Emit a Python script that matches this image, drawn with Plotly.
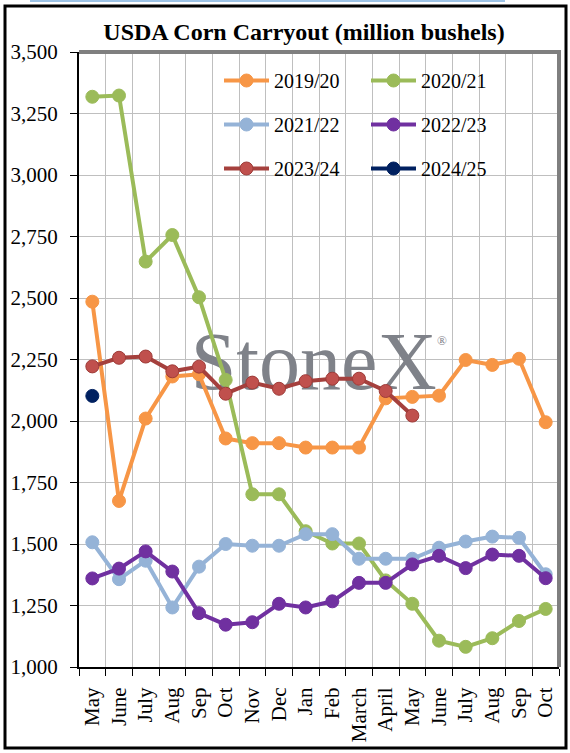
import plotly.graph_objects as go

# USDA corn carryout estimates by report month (million bushels)
months = ["May", "June", "July", "Aug", "Sep", "Oct", "Nov", "Dec", "Jan", "Feb",
          "March", "April", "May", "June", "July", "Aug", "Sep", "Oct"]

y2019 = [2485, 1675, 2010, 2181, 2190, 1929, 1910, 1910, 1892, 1892,
         1892, 2092, 2098, 2103, 2248, 2228, 2253, 1995]
y2020 = [3318, 3323, 2648, 2756, 2503, 2167, 1702, 1702, 1552, 1502,
         1502, 1352, 1257, 1107, 1082, 1117, 1187, 1236]
y2021 = [1507, 1357, 1432, 1242, 1408, 1500, 1493, 1493, 1540, 1540,
         1440, 1440, 1440, 1485, 1510, 1530, 1525, 1377]
y2022 = [1360, 1400, 1470, 1388, 1219, 1172, 1182, 1257, 1242, 1267,
         1342, 1342, 1417, 1452, 1402, 1457, 1452, 1361]
y2023 = [2222, 2257, 2262, 2202, 2221, 2111, 2156, 2131, 2162, 2172,
         2172, 2122, 2022]
y2024 = [2102]

series = [
    # name, values, line colour, marker colour, marker outline, legend
    ("2019/20", y2019, "#F79646", "#F79646", "#F79646", "legend"),
    ("2020/21", y2020, "#9BBB59", "#9BBB59", "#9BBB59", "legend2"),
    ("2021/22", y2021, "#95B3D7", "#95B3D7", "#95B3D7", "legend"),
    ("2022/23", y2022, "#7030A0", "#7030A0", "#7030A0", "legend2"),
    ("2023/24", y2023, "#A5403D", "#C0504D", "#9E3B38", "legend"),
    ("2024/25", y2024, "#002060", "#002060", "#002060", "legend2"),
]

FONT = "Liberation Serif"
WIDTH, HEIGHT = 570, 753
L, R, T, B = 79, 11, 52, 86
PW, PH = WIDTH - L - R, HEIGHT - T - B


def fx(p):  # pixel -> paper x
    return (p - L) / PW


def fy(p):  # pixel -> paper y
    return (HEIGHT - B - p) / PH


fig = go.Figure()

# watermark, drawn first so the lines sit over it
fig.add_trace(go.Scatter(
    x=[8.3], y=[2215], mode="text", text=["StoneX"],
    textfont=dict(family=FONT, size=82, color="#7F8289"),
    hoverinfo="skip", showlegend=False,
))

for name, vals, lc, mc, oc, leg in series:
    fig.add_trace(go.Scatter(
        x=list(range(len(vals))), y=vals, name=name, mode="lines+markers",
        line=dict(color=lc, width=4),
        marker=dict(color=mc, size=13, line=dict(color=oc, width=1)),
        legend=leg, legendgroup=name,
    ))

legend_common = dict(
    font=dict(family=FONT, size=20, color="black"),
    bgcolor="rgba(0,0,0,0)", itemwidth=45, traceorder="grouped",
    tracegroupgap=15, xanchor="left", yanchor="top", orientation="v",
    itemclick=False,
)

fig.update_layout(
    width=WIDTH, height=HEIGHT,
    margin=dict(l=L, r=R, t=T, b=B, autoexpand=False),
    paper_bgcolor="white", plot_bgcolor="white",
    font=dict(family=FONT, color="black"),
    title=dict(text="<b>USDA Corn Carryout (million bushels)</b>",
               font=dict(family=FONT, size=24, color="black"),
               x=304 / WIDTH, xanchor="center", xref="container",
               y=1 - 32 / HEIGHT, yanchor="middle"),
    legend=dict(x=fx(219), y=fy(61), **legend_common),
    legend2=dict(x=fx(366), y=fy(61), **legend_common),
    annotations=[
        dict(text="®", xref="paper", yref="paper", x=fx(449), y=fy(340),
             showarrow=False, font=dict(family=FONT, size=13, color="#7F8289")),
    ],
    shapes=[
        # white legend panel over the grid
        dict(type="rect", xref="paper", yref="paper", layer="between",
             x0=fx(205), x1=fx(548), y0=fy(190), y1=fy(60),
             fillcolor="white", line_width=0),
        # grey top and right plot border
        dict(type="path", xref="paper", yref="paper", layer="above",
             path="M 0 1 L 1 1 L 1 0", line=dict(color="#7F7F7F", width=4)),
        # outer black frame
        dict(type="rect", xref="paper", yref="paper", layer="above",
             x0=fx(5), x1=fx(566), y0=fy(748), y1=fy(6),
             line=dict(color="black", width=3)),
        # stray blue rule at the very top
        dict(type="line", xref="paper", yref="paper", layer="above",
             x0=fx(30), x1=fx(505), y0=fy(1), y1=fy(1),
             line=dict(color="#9DC3E6", width=2)),
    ],
)

fig.update_xaxes(
    range=[-0.5, len(months) - 0.5],
    tickmode="array", tickvals=list(range(len(months))), ticktext=months,
    tickangle=-90, ticks="", showgrid=False, zeroline=False,
    tickfont=dict(family=FONT, size=21, color="black"),
    ticklabelstandoff=10,
    showline=True, linecolor="black", linewidth=2,
    minor=dict(tickmode="linear", tick0=-0.5, dtick=1, ticks="outside",
               ticklen=7, tickcolor="black", tickwidth=1,
               showgrid=True, gridcolor="#BFBFBF", gridwidth=1),
)
fig.update_yaxes(
    range=[1000, 3500], dtick=250, tickformat=",",
    ticks="outside", ticklen=7, tickcolor="black",
    showgrid=True, gridcolor="#BFBFBF", gridwidth=1, zeroline=False,
    tickfont=dict(family=FONT, size=21, color="black"),
    ticklabelstandoff=8,
    showline=True, linecolor="black", linewidth=2,
)

# page body has an 8px default margin; drop it so the figure sits at 0,0
fig.write_html("out.html", config={"displayModeBar": False},
               post_script="document.body.style.margin='0';")
